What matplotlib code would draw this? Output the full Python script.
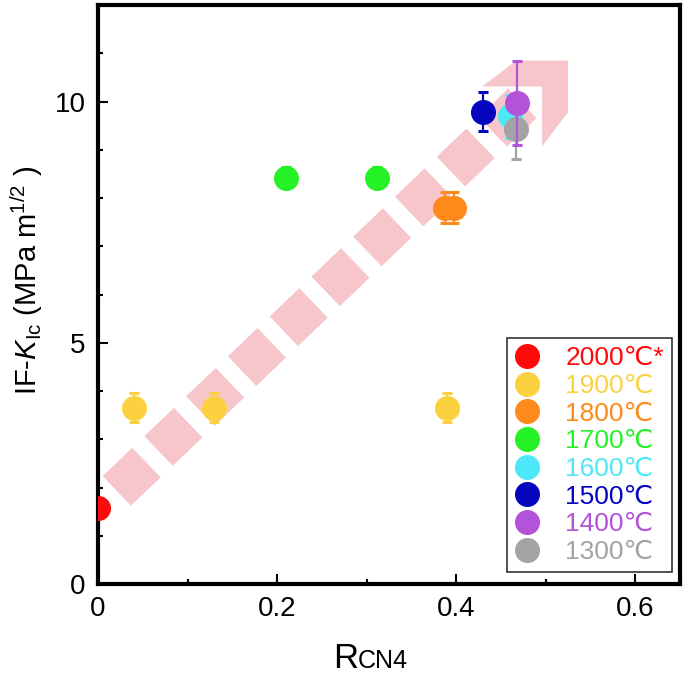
import numpy as np
import matplotlib
matplotlib.use('Agg')
import matplotlib.pyplot as plt
from matplotlib.lines import Line2D
from matplotlib.patches import Polygon
from matplotlib.ticker import MultipleLocator

plt.rcParams['font.family'] = ['Liberation Sans', 'DejaVu Sans']
plt.rcParams['mathtext.fontset'] = 'custom'
plt.rcParams['mathtext.rm'] = 'Liberation Sans'
plt.rcParams['mathtext.it'] = 'Liberation Sans:italic'

# Data: R_CN4 vs IF-KIc for each sintering temperature
labels = ['2000℃*', '1900℃', '1800℃', '1700℃', '1600℃', '1500℃', '1400℃', '1300℃']
colors = ['#ff0a0a', '#fcd140', '#ff8a1c', '#24f224', '#4de8f7', '#0505c0', '#b452d9', '#a3a3a3']
x_2000, y_2000, e_2000 = [0.0], [1.58], [0.08]
x_1900, y_1900, e_1900 = [0.04, 0.13, 0.39], [3.65, 3.65, 3.65], [0.3, 0.3, 0.3]
x_1800, y_1800, e_1800 = [0.388, 0.398], [7.8, 7.8], [0.32, 0.32]
x_1700, y_1700, e_1700 = [0.21, 0.312], [8.42, 8.42], [0.22, 0.22]
x_1600, y_1600, e_1600 = [0.46], [9.69], [0.44]
x_1500, y_1500, e_1500 = [0.43], [9.79], [0.4]
x_1400, y_1400, e_1400 = [0.468], [9.96], [0.87]
x_1300, y_1300, e_1300 = [0.467], [9.42], [0.62]

series = [(x_2000, y_2000, e_2000), (x_1900, y_1900, e_1900), (x_1800, y_1800, e_1800),
          (x_1700, y_1700, e_1700), (x_1600, y_1600, e_1600), (x_1500, y_1500, e_1500),
          (x_1400, y_1400, e_1400), (x_1300, y_1300, e_1300)]
zorders = [5, 5, 5, 5, 5, 5, 7, 6]

# trend arrow (data coords)
arrow_start = (0.021, 1.93)
arrow_end = (0.475, 9.98)
arrow_tip = (0.525, 10.85)
pink = '#f7c6cb'

fig = plt.figure(figsize=(6.85, 6.8), dpi=100)
ax = fig.add_axes([98 / 685, 96 / 680, 582 / 685, 579 / 680])
ax.set_xlim(0, 0.65)
ax.set_ylim(0, 12)

# arrow body: thick dashed line -> rotated squares
ax.plot([arrow_start[0], arrow_end[0]], [arrow_start[1], arrow_end[1]],
        color=pink, lw=29.5, dashes=(1.0, 0.41), dash_capstyle='butt', zorder=1)

# arrow head: open chevron built in pixel offsets around the tip
arm, wid = 86, 26
tip_px = ax.transData.transform(arrow_tip)
offs = np.array([(0, 0), (-arm * 0.6, 0), (-arm, -wid), (-wid, -wid),
                 (-wid, -arm), (0, -arm * 0.6)])
head = ax.transData.inverted().transform(tip_px + offs)
ax.add_patch(Polygon(head, closed=True, facecolor=pink, edgecolor='none', zorder=1))

handles = []
for (xs, ys, es), c, lab, z in zip(series, colors, labels, zorders):
    ax.errorbar(xs, ys, yerr=es, fmt='o', color=c, ms=17, mec=c, ecolor=c,
                elinewidth=1.6, capsize=3.4, capthick=2.2, zorder=z)
    handles.append(Line2D([], [], marker='o', ls='none', color=c, ms=17, label=lab))

leg = ax.legend(handles=handles, loc='lower right', bbox_to_anchor=(0.986, 0.021),
                borderaxespad=0, fontsize=19, frameon=True, fancybox=False,
                handlelength=0.9, handletextpad=1.0, labelspacing=0.14,
                borderpad=0.3)
leg.get_frame().set_edgecolor('black')
leg.get_frame().set_linewidth(1.2)
for t, c in zip(leg.get_texts(), colors):
    t.set_color(c)

for s in ax.spines.values():
    s.set_linewidth(3)
ax.xaxis.set_major_locator(MultipleLocator(0.2))
ax.xaxis.set_minor_locator(MultipleLocator(0.1))
ax.yaxis.set_major_locator(MultipleLocator(5))
ax.yaxis.set_minor_locator(MultipleLocator(1))
ax.tick_params(which='both', direction='in', top=False, right=False, width=1.5,
               labelsize=20, pad=9)
ax.tick_params(which='major', length=7)
ax.tick_params(which='minor', length=3.5)
ax.set_xticks([0, 0.2, 0.4, 0.6])
ax.set_xticklabels(['0', '0.2', '0.4', '0.6'])

# axis labels
fig.text(27 / 685, 1 - 280 / 680, r'IF-$\mathit{K}_{\mathrm{Ic}}$ (MPa m$^{1/2}$ )',
         rotation=90, ha='center', va='center', fontsize=21)
fig.text(358 / 685, 1 - 668 / 680, 'R', ha='right', va='baseline', fontsize=25)
fig.text(358 / 685, 1 - 668 / 680, 'CN4', ha='left', va='baseline', fontsize=18)

fig.savefig('out.png', dpi=100)
